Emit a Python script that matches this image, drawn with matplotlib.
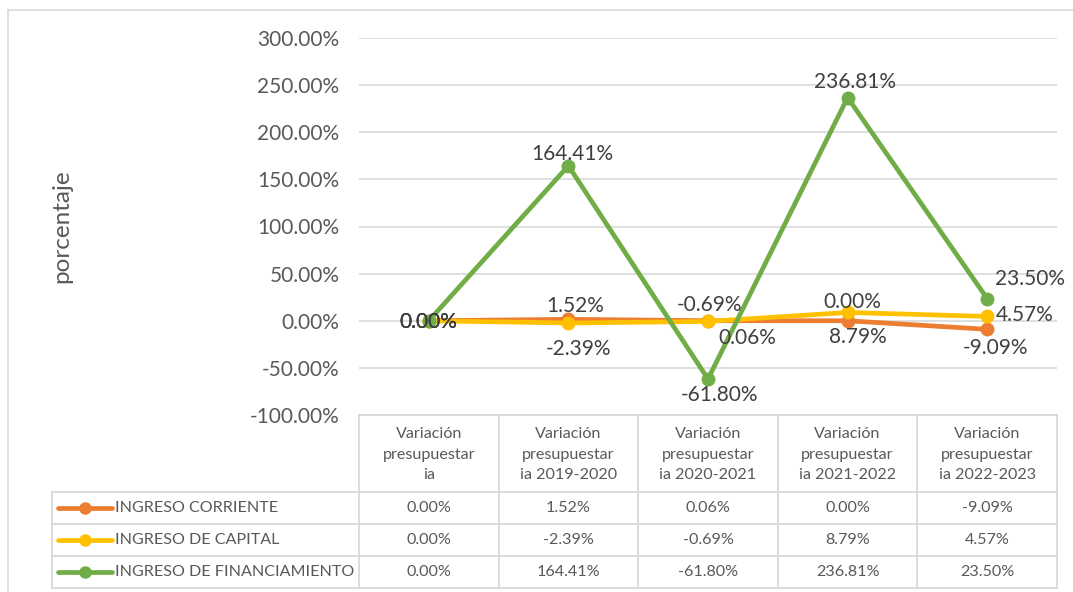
import matplotlib.pyplot as plt
from matplotlib.lines import Line2D

plt.rcParams['font.family'] = ['Lato', 'DejaVu Sans']

# datos
categorias = ["Variación\npresupuestar\nia",
              "Variación\npresupuestar\nia 2019-2020",
              "Variación\npresupuestar\nia 2020-2021",
              "Variación\npresupuestar\nia 2021-2022",
              "Variación\npresupuestar\nia 2022-2023"]
series = ["INGRESO CORRIENTE", "INGRESO DE CAPITAL", "INGRESO DE FINANCIAMIENTO"]
corriente = [0.00, 1.52, 0.06, 0.00, -9.09]
capital = [0.00, -2.39, -0.69, 8.79, 4.57]
financiamiento = [0.00, 164.41, -61.80, 236.81, 23.50]
# etiquetas tal como aparecen en el grafico (excel las cruza en algunos puntos)
etiq_corriente = ["0.00%", "1.52%", "0.06%", "0.00%", "-9.09%"]
etiq_capital = ["0.00%", "-2.39%", "-0.69%", "8.79%", "4.57%"]
etiq_financ = ["0.00%", "164.41%", "-61.80%", "236.81%", "23.50%"]
yticks = [-100, -50, 0, 50, 100, 150, 200, 250, 300]

colores = ['#ED7D31', '#FFC000', '#70AD47']
valores = [corriente, capital, financiamiento]
etiquetas = [etiq_corriente, etiq_capital, etiq_financ]
# desplazamientos de etiquetas en pixeles
offs = [
    [(0, -1), (7, 13), (39, -17), (5, 19), (8, -19)],
    [(0, -1), (10, -26), (2, 16), (10, -25), (38, 1)],
    [(0, -1), (4, 12), (12, -16), (7, 16), (43, 20)],
]

W, H = 1073, 592
fig = plt.figure(figsize=(W / 100, H / 100), dpi=100)

# marco exterior (solo borde superior e izquierdo visibles)
fig.add_artist(Line2D([8 / W, 1], [1 - 9.5 / H, 1 - 9.5 / H], transform=fig.transFigure,
                      color='#D9D9D9', linewidth=1.2))
fig.add_artist(Line2D([8 / W, 8 / W], [0, 1 - 9.5 / H], transform=fig.transFigure,
                      color='#D9D9D9', linewidth=1.2))

x0, x1 = 359, 1057
ax = fig.add_axes([x0 / W, 1 - 415 / H, (x1 - x0) / W, (415 - 38) / H])
xs = list(range(len(categorias)))
for vals, col, labs, off in zip(valores, colores, etiquetas, offs):
    ax.plot(xs, vals, color=col, linewidth=3.4, marker='o', markersize=9,
            solid_capstyle='round', zorder=3)
    for i, (v, t) in enumerate(zip(vals, labs)):
        ax.annotate(t, (i, v), xytext=off[i], textcoords='offset pixels',
                    ha='center', va='center', fontsize=15, color='#404040', zorder=5)

ax.set_xlim(-0.5, len(categorias) - 0.5)
ax.set_ylim(-100, 300)
ax.set_yticks(yticks)
ax.set_yticklabels([f"{v:.2f}%" for v in yticks], fontsize=15, color='#595959')
ax.set_xticks([])
ax.tick_params(axis='y', length=0, pad=14)
ax.grid(axis='y', color='#D9D9D9', linewidth=1.2)
ax.set_axisbelow(True)
for s in ax.spines.values():
    s.set_visible(False)

fig.text(62 / W, 1 - 226 / H, "porcentaje", rotation=90, ha='center', va='center',
         fontsize=17.5, color='#595959')

# tabla de datos
ty0, ty1 = 415, 588
tab = fig.add_axes([x0 / W, 1 - ty1 / H, (x1 - x0) / W, (ty1 - ty0) / H])
tab.set_xlim(-0.5, len(categorias) - 0.5)
tab.set_ylim(ty1 - ty0, 0)
tab.axis('off')
ppu = (x1 - x0) / len(categorias)
left = -0.5 - (x0 - 52) / ppu
hdr = 77
rows = [hdr, hdr + 32, hdr + 64, ty1 - ty0]
gc = '#D9D9D9'
kw = dict(color=gc, linewidth=1.3, clip_on=False)
tab.plot([-0.5, len(categorias) - 0.5], [0, 0], **kw)
for r in rows:
    tab.plot([left, len(categorias) - 0.5], [r, r], **kw)
tab.plot([left, left], [hdr, rows[-1]], **kw)
for i in range(len(categorias) + 1):
    tab.plot([i - 0.5, i - 0.5], [0, rows[-1]], **kw)

for i, c in enumerate(categorias):
    tab.text(i, hdr / 2 + 1, c, ha='center', va='center', fontsize=11.6, color='#595959',
             linespacing=1.55)

for k, (nombre, col, vals) in enumerate(zip(series, colores, valores)):
    yc = hdr + 16 + 32 * k
    xl = left + 6 / ppu
    xr = left + 60 / ppu
    tab.add_line(Line2D([xl, xr], [yc, yc], color=col, linewidth=3.4,
                        solid_capstyle='round', clip_on=False))
    tab.add_line(Line2D([(xl + xr) / 2], [yc], color=col, marker='o', markersize=8,
                        clip_on=False))
    tab.text(left + 63 / ppu, yc, nombre, ha='left', va='center', fontsize=11.6,
             color='#595959')
    for i, v in enumerate(vals):
        tab.text(i, yc, f"{v:.2f}%", ha='center', va='center', fontsize=11.6,
                 color='#595959')

fig.savefig('out.png', dpi=100)
